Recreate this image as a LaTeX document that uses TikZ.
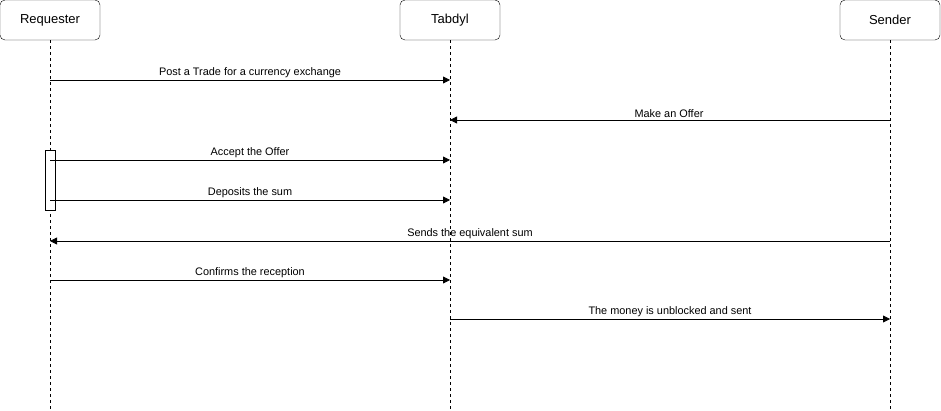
\documentclass[tikz,border=0pt]{standalone}
\usepackage{fontspec}
\setmainfont{Liberation Sans}
\usetikzlibrary{arrows.meta}
\usetikzlibrary{positioning}
\tikzset{
x=1pt,y=-1pt,
>={Triangle[length=7pt,width=7pt]}, % filled tips
actor/.style={draw,rectangle,rounded corners=5pt,minimum width=100pt,minimum height=40pt,inner sep=0pt,font=\fontsize{13}{15}\selectfont},
lifeline/.style={dashed,dash pattern=on 3pt off 3pt},
activation/.style={draw,fill=white,rectangle,minimum width=10pt,minimum height=60pt,inner sep=0pt},
msg/.style={->,line width=0.8pt},
msg label/.style={above=1pt,font=\fontsize{10.9}{12}\selectfont,inner sep=1pt}
}
\begin{document}
\begin{tikzpicture}
\useasboundingbox (0,0) rectangle (941,411);
% actors
\node[actor] (req) at (50,20) {Requester};
\node[actor] (tab) at (450,20) {Tabdyl};
\node[actor] (snd) at (890,20) {Sender};
% lifelines
\coordinate (req end) at (50,411);
\coordinate (tab end) at (450,411);
\coordinate (snd end) at (890,411);
\draw[lifeline] (req) -- (req end);
\draw[lifeline] (tab) -- (tab end);
\draw[lifeline] (snd) -- (snd end);
\node[activation] (act) at (50,180) {};
% message ends
\coordinate (r1) at (50,80);  \coordinate (t1) at (450,80);
\coordinate (s2) at (890,120); \coordinate (t2) at (450,120);
\coordinate (r3) at (50,160); \coordinate (t3) at (450,160);
\coordinate (r4) at (50,200); \coordinate (t4) at (450,200);
\coordinate (s5) at (890,241); \coordinate (r5) at (50,241);
\coordinate (r6) at (50,280); \coordinate (t6) at (450,280);
\coordinate (t7) at (450,319); \coordinate (s7) at (890,319);
% messages
\draw[msg] (r1) -- node[msg label]{Post a Trade for a currency exchange} (t1);
\draw[msg] (s2) -- node[msg label,xshift=-1pt]{Make an Offer} (t2);
\draw[msg] (r3) -- node[msg label]{Accept the Offer} (t3);
\draw[msg] (r4) -- node[msg label]{Deposits the sum} (t4);
\draw[msg] (s5) -- node[msg label]{Sends the equivalent sum} (r5);
\draw[msg] (r6) -- node[msg label]{Confirms the reception} (t6);
\draw[msg] (t7) -- node[msg label]{The money is unblocked and sent} (s7);
\end{tikzpicture}
\end{document}
